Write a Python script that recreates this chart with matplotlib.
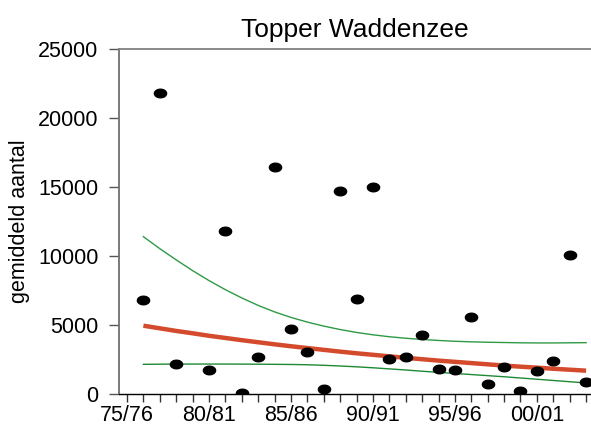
import numpy as np
import matplotlib
matplotlib.use("Agg")
import matplotlib.pyplot as plt
from matplotlib.path import Path

plt.rcParams['font.family'] = ['Liberation Sans', 'DejaVu Sans']

# telling per seizoen (jaar = beginjaar van het seizoen)
years = [1976, 1977, 1978, 1980, 1981, 1982, 1983, 1984, 1985, 1986, 1987,
         1988, 1989, 1990, 1991, 1992, 1993, 1994, 1995, 1996, 1997, 1998,
         1999, 2000, 2001, 2002, 2003]
counts = [6800, 21800, 2150, 1720, 11800, 100, 2660, 16430, 4690, 3020, 360,
          14700, 6900, 15000, 2560, 2700, 4280, 1810, 1740, 5560, 720, 1980,
          240, 1690, 2390, 10050, 870]

trend_years = list(range(1976, 2004))
trend = [4950, 4760, 4570, 4400, 4220, 4060, 3900, 3750, 3600, 3460, 3330,
         3200, 3070, 2950, 2840, 2730, 2620, 2520, 2420, 2330, 2240, 2150,
         2060, 1980, 1910, 1830, 1760, 1690]
upper = [11400, 10530, 9720, 8940, 8220, 7560, 6960, 6420, 5950, 5550, 5210,
         4920, 4670, 4460, 4290, 4150, 4040, 3950, 3880, 3820, 3780, 3750,
         3730, 3710, 3700, 3700, 3710, 3720]
lower = [2150, 2160, 2170, 2170, 2170, 2170, 2165, 2160, 2150, 2140, 2120,
         2080, 2030, 1970, 1900, 1820, 1740, 1650, 1570, 1490, 1410, 1330,
         1250, 1160, 1070, 980, 890, 800]

tick_years = [1975, 1980, 1985, 1990, 1995, 2000]
tick_labels = ['75/76', '80/81', '85/86', '90/91', '95/96', '00/01']

# ellips als marker
t = np.linspace(0, 2 * np.pi, 60)
ellipse = Path(np.column_stack([np.cos(t), 0.7 * np.sin(t)]), closed=True)

fig = plt.figure(figsize=(5.91, 4.25), dpi=100)
ax = fig.add_axes([119.3 / 591, 31 / 425, 1 - 119.3 / 591, 345 / 425])

ax.plot(trend_years, upper, color='#2e9a44', lw=1.0)
ax.plot(trend_years, lower, color='#1d8a33', lw=1.0)
ax.plot(trend_years, trend, color='#d44a2c', lw=3.2, solid_capstyle='butt')
ax.plot(years, counts, ls='none', marker=ellipse, ms=8.8, color='black')

ax.set_xlim(1974.53, 2003.3)
ax.set_ylim(0, 25000)
ax.set_yticks([0, 5000, 10000, 15000, 20000, 25000])
ax.set_xticks(tick_years)
ax.set_xticklabels(tick_labels)
ax.set_xticks(range(1975, 2004), minor=True)

ax.tick_params(axis='x', which='both', direction='out', length=6, width=1,
               color='#333333', labelsize=15.5, pad=2)
ax.tick_params(axis='y', direction='out', length=7, width=1,
               color='#555555', labelsize=15.5, pad=8)

ax.spines['right'].set_visible(False)
ax.spines['top'].set_color('#808080')
ax.spines['top'].set_linewidth(1.3)
ax.spines['left'].set_color('#707070')
ax.spines['left'].set_linewidth(1.3)
ax.spines['bottom'].set_color('black')
ax.spines['bottom'].set_linewidth(1.0)

ax.set_ylabel('gemiddeld aantal', fontsize=15.5)
ax.yaxis.set_label_coords(-0.19, 0.5)
ax.set_title('Topper Waddenzee', fontsize=19, pad=9)

fig.savefig('out.png', dpi=100)
